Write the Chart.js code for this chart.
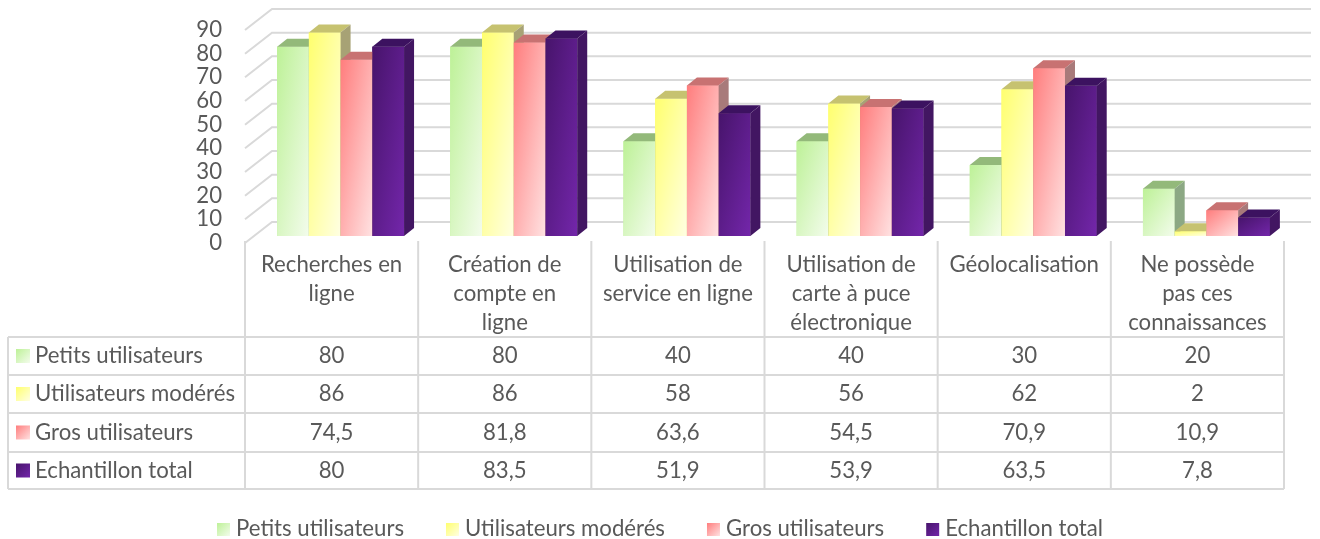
<!DOCTYPE html>
<html>
<head>
<meta charset="utf-8">
<script src="https://cdn.jsdelivr.net/npm/chart.js@4.4.1/dist/chart.umd.min.js"></script>
<style>
  html, body { margin: 0; padding: 0; background: #fff; }
  canvas { display: block; }
</style>
</head>
<body>
<canvas id="myChart" width="1320" height="539"></canvas>
<script>
// ---------- data ----------
const categories = [
  ["Recherches en", "ligne"],
  ["Création de", "compte en", "ligne"],
  ["Utilisation de", "service en ligne"],
  ["Utilisation de", "carte à puce", "électronique"],
  ["Géolocalisation"],
  ["Ne possède", "pas ces", "connaissances"],
];
const seriesNames = [
  "Petits utilisateurs",
  "Utilisateurs modérés",
  "Gros utilisateurs",
  "Echantillon total",
];
const petitsUtilisateurs = [80, 80, 40, 40, 30, 20];
const utilisateursModeres = [86, 86, 58, 56, 62, 2];
const grosUtilisateurs = [74.5, 81.8, 63.6, 54.5, 70.9, 10.9];
const echantillonTotal = [80, 83.5, 51.9, 53.9, 63.5, 7.8];
const yTicks = [0, 10, 20, 30, 40, 50, 60, 70, 80, 90];

// ---------- styles ----------
const FONT = "Lato";
const FONT_SIZE = 22.2;
const TEXT_COLOR = "#595959";
const GRID_COLOR = "#d9d9d9";
const frontColors = [
  ["#bdf197", "#f3fcec"],
  ["#ffff6e", "#ffffe2"],
  ["#ff7d7d", "#ffe2e2"],
  ["#47146b", "#7326aa"],
];
const topColors = ["#93b97a", "#c6c270", "#c87272", "#3c1260"];
const sideColors = ["#8ca884", "#a7a275", "#a87a7a", "#421662"];

const DEPTH_X = 10;
const DEPTH_Y = 8;
const SHIFT = 9; // bars sit a little right of the table columns
const WALL_DX = 27;
const WALL_FRONT = 7;
const WALL_BACK = 14;
const tableTop = 241;
const rowLines = [337, 375, 413, 452, 489];
const tableLeft = 8;

function fmt(v) {
  return String(v).replace(".", ",");
}

function diagGradient(ctx, left, top, w, h, c0, c1) {
  const a = 1 / (2 * w);
  const b = 1 / (2 * Math.max(h, 1));
  const n = a * a + b * b;
  const g = ctx.createLinearGradient(left, top, left + a / n, top + b / n);
  g.addColorStop(0, c0);
  g.addColorStop(1, c1);
  return g;
}

function columnInfo(chart) {
  const xs = chart.scales.x;
  const colW = (xs.right - xs.left) / categories.length;
  const first = xs.getPixelForValue(0) - colW / 2 - SHIFT;
  return { colW, first, last: first + colW * categories.length };
}

const bars3d = {
  id: "bars3d",
  beforeDatasetsDraw(chart) {
    const ctx = chart.ctx;
    const ys = chart.scales.y;
    const { first, last } = columnInfo(chart);
    ctx.save();
    ctx.strokeStyle = GRID_COLOR;
    ctx.lineWidth = 2;
    yTicks.forEach((v) => {
      const y = ys.getPixelForValue(v);
      ctx.beginPath();
      ctx.moveTo(first, y + WALL_FRONT);
      ctx.lineTo(first + WALL_DX, y - WALL_BACK);
      ctx.lineTo(last + WALL_DX, y - WALL_BACK);
      ctx.stroke();
    });
    ctx.restore();
  },
  afterDatasetsDraw(chart) {
    const ctx = chart.ctx;
    ctx.save();
    chart.data.datasets.forEach((ds, i) => {
      const meta = chart.getDatasetMeta(i);
      meta.data.forEach((el) => {
        const w = el.width;
        const left = el.x - w / 2;
        const right = left + w;
        const top = el.y;
        const base = el.base;
        // front face
        ctx.fillStyle = diagGradient(ctx, left, top, w, base - top, frontColors[i][0], frontColors[i][1]);
        ctx.fillRect(left, top, w, base - top);
        // top face
        ctx.fillStyle = topColors[i];
        ctx.beginPath();
        ctx.moveTo(left, top);
        ctx.lineTo(left + DEPTH_X, top - DEPTH_Y);
        ctx.lineTo(right + DEPTH_X, top - DEPTH_Y);
        ctx.lineTo(right, top);
        ctx.closePath();
        ctx.fill();
        // side face
        ctx.fillStyle = sideColors[i];
        ctx.beginPath();
        ctx.moveTo(right, top);
        ctx.lineTo(right + DEPTH_X, top - DEPTH_Y);
        ctx.lineTo(right + DEPTH_X, base - DEPTH_Y);
        ctx.lineTo(right, base);
        ctx.closePath();
        ctx.fill();
      });
    });
    ctx.restore();
  },
  afterDraw(chart) {
    const ctx = chart.ctx;
    const ys = chart.scales.y;
    const { colW, first, last } = columnInfo(chart);
    ctx.save();
    ctx.font = FONT_SIZE + "px " + FONT;
    ctx.fillStyle = TEXT_COLOR;

    // y axis labels
    ctx.textAlign = "right";
    ctx.textBaseline = "middle";
    yTicks.forEach((v) => {
      ctx.fillText(String(v), 222, ys.getPixelForValue(v) + WALL_FRONT);
    });

    // table lines
    ctx.strokeStyle = GRID_COLOR;
    ctx.lineWidth = 2;
    ctx.beginPath();
    for (let k = 0; k <= categories.length; k++) {
      const x = first + k * colW;
      ctx.moveTo(x, tableTop);
      ctx.lineTo(x, rowLines[rowLines.length - 1]);
    }
    ctx.moveTo(tableLeft, rowLines[0]);
    ctx.lineTo(tableLeft, rowLines[rowLines.length - 1]);
    rowLines.forEach((y) => {
      ctx.moveTo(tableLeft, y);
      ctx.lineTo(last, y);
    });
    ctx.stroke();

    // header labels
    ctx.textAlign = "center";
    categories.forEach((lines, c) => {
      const cx = first + colW * (c + 0.5);
      lines.forEach((line, k) => {
        ctx.fillText(line, cx, 265 + k * 29);
      });
    });

    // rows
    chart.data.datasets.forEach((ds, i) => {
      const cy = (rowLines[i] + rowLines[i + 1]) / 2;
      ctx.fillStyle = diagGradient(ctx, 16, cy - 7, 14, 14, frontColors[i][0], frontColors[i][1]);
      ctx.fillRect(16, cy - 7, 14, 14);
      ctx.fillStyle = TEXT_COLOR;
      ctx.textAlign = "left";
      ctx.fillText(ds.label, 35, cy);
      ctx.textAlign = "center";
      ds.data.forEach((v, c) => {
        ctx.fillText(fmt(v), first + colW * (c + 0.5), cy);
      });
    });

    // legend
    const sq = 13;
    const gapIn = 6;
    const gapOut = 42;
    const widths = seriesNames.map((n) => ctx.measureText(n).width);
    const total = widths.reduce((t, w) => t + sq + gapIn + w, 0) + gapOut * (seriesNames.length - 1);
    let x = (chart.width - total) / 2;
    const ly = 529;
    ctx.textAlign = "left";
    seriesNames.forEach((name, i) => {
      ctx.fillStyle = diagGradient(ctx, x, ly - 6, sq, sq, frontColors[i][0], frontColors[i][1]);
      ctx.fillRect(x, ly - 6, sq, sq);
      ctx.fillStyle = TEXT_COLOR;
      ctx.fillText(name, x + sq + gapIn, ly);
      x += sq + gapIn + widths[i] + gapOut;
    });
    ctx.restore();
  },
};

const seriesData = [petitsUtilisateurs, utilisateursModeres, grosUtilisateurs, echantillonTotal];

new Chart(document.getElementById("myChart"), {
  type: "bar",
  data: {
    labels: categories,
    datasets: seriesData.map((values, i) => ({
      label: seriesNames[i],
      data: values,
      backgroundColor: frontColors[i][0],
      borderWidth: 0,
      categoryPercentage: 0.733,
      barPercentage: 1,
    })),
  },
  options: {
    responsive: false,
    animation: false,
    devicePixelRatio: 1,
    events: [],
    layout: {
      padding: { left: 254, right: 27, top: 23, bottom: 303 },
    },
    scales: {
      x: { display: false },
      y: { display: false, min: 0, max: 90 },
    },
    plugins: {
      legend: { display: false },
      tooltip: { enabled: false },
    },
  },
  plugins: [bars3d],
});
</script>
</body>
</html>
